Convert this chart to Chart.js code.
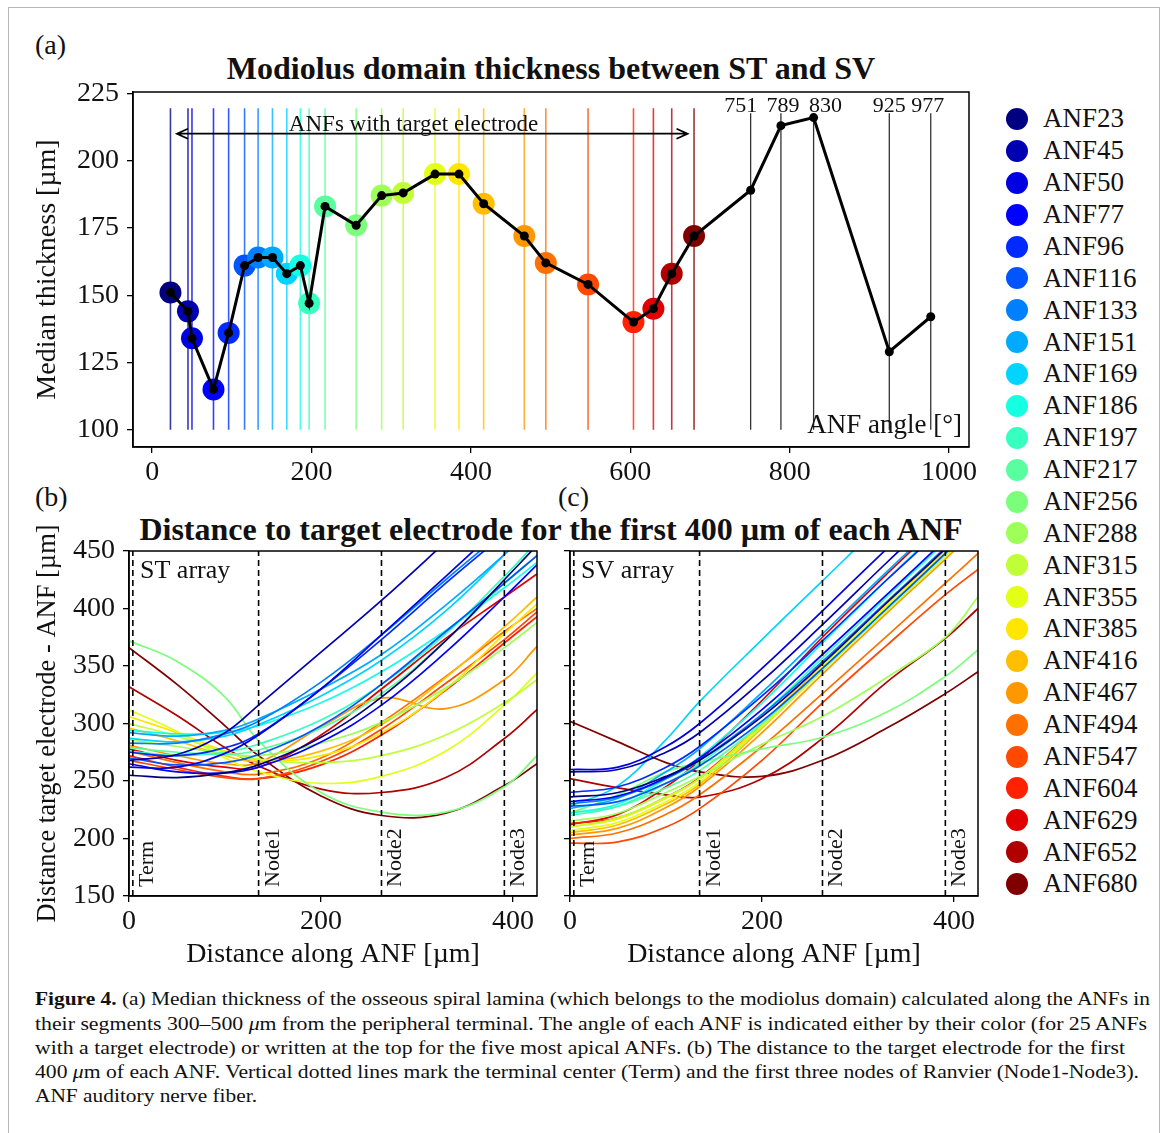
<!DOCTYPE html>
<html>
<head>
<meta charset="utf-8">
<script src="https://cdn.jsdelivr.net/npm/chart.js"></script>
<style>
  body { margin: 0; background: #fff; width: 1168px; height: 1133px; position: relative; overflow: hidden;
         font-family: 'Liberation Serif', serif; color: #111; }
  .frame { position: absolute; left: 8px; top: 7px; width: 1150px; height: 1160px; border: 1.5px solid #b8b8b8; }
  .box { position: absolute; }
  .txt { position: absolute; white-space: nowrap; line-height: 1; }
  .ttl { font-weight: bold; font-size: 32px; transform: translateX(-50%); }
  .cap { position: absolute; left: 35px; font-size: 18px; line-height: 1; white-space: nowrap; transform-origin: left center; }
  .dot { position: absolute; width: 22px; height: 22px; border-radius: 50%; }
</style>
</head>
<body>
<div class="frame"></div>

<div class="txt" style="left:35px; top:31px; font-size:28px">(a)</div>
<div class="txt ttl" style="left:551px; top:52px">Modiolus domain thickness between ST and SV</div>
<div class="txt" style="left:35px; top:483px; font-size:28px">(b)</div>
<div class="txt" style="left:558px; top:483px; font-size:28px">(c)</div>
<div class="txt ttl" style="left:551px; top:513px">Distance to target electrode for the first 400 µm of each ANF</div>

<div class="box" style="left:30px; top:60px"><canvas id="chartA" width="960" height="435"></canvas></div>
<div class="box" style="left:30px; top:520px"><canvas id="chartB" width="520" height="455"></canvas></div>
<div class="box" style="left:540px; top:520px"><canvas id="chartC" width="450" height="455"></canvas></div>

<div id="legend"></div>

<div id="caption">
  <div class="cap" style="top:990px"><b>Figure 4.</b> (a) Median thickness of the osseous spiral lamina (which belongs to the modiolus domain) calculated along the ANFs in</div>
  <div class="cap" style="top:1015px">their segments 300–500 <i>μ</i>m from the peripheral terminal. The angle of each ANF is indicated either by their color (for 25 ANFs</div>
  <div class="cap" style="top:1039px">with a target electrode) or written at the top for the five most apical ANFs. (b) The distance to the target electrode for the first</div>
  <div class="cap" style="top:1063px">400 <i>μ</i>m of each ANF. Vertical dotted lines mark the terminal center (Term) and the first three nodes of Ranvier (Node1-Node3).</div>
  <div class="cap" style="top:1087px">ANF auditory nerve fiber.</div>
</div>

<script>
// --- DATA ---
// (a) ANFs with a target electrode: angle [deg] and median thickness [um]
const anfAngles = [23, 45, 50, 77, 96, 116, 133, 151, 169, 186, 197, 217, 256, 288, 315, 355, 385, 416, 467, 494, 547, 604, 629, 652, 680];
const anfThickness = [151, 144, 134, 115, 136, 161, 164, 164, 158, 161, 147, 183, 176, 187, 188, 195, 195, 184, 172, 162, 154, 140, 145, 158, 172];
// five most apical ANFs (no target electrode)
const apicalAngles = [751, 789, 830, 925, 977];
const apicalThickness = [189, 213, 216, 129, 142];
const thickTicks = [100, 125, 150, 175, 200, 225];
const angleTicks = [0, 200, 400, 600, 800, 1000];

// (b)/(c) distance to target electrode [um], sampled along the ANF [um]
const distX = [0, 50, 100, 135, 200, 263, 330, 391, 425];
const stDist = [
  [255, 253, 257, 264, 288, 323, 372, 425, 455],  // ANF23
  [268, 273, 292, 316, 362, 407, 458, 505, 535],  // ANF45
  [262, 262, 274, 290, 330, 377, 428, 475, 502],  // ANF50
  [265, 258, 257, 262, 284, 316, 362, 410, 438],  // ANF77
  [275, 272, 279, 291, 330, 373, 422, 465, 490],  // ANF96
  [270, 264, 266, 273, 298, 334, 380, 422, 446],  // ANF116
  [283, 283, 291, 302, 336, 377, 425, 468, 493],  // ANF133
  [292, 289, 294, 304, 330, 360, 403, 447, 474],  // ANF151
  [287, 284, 289, 299, 324, 355, 398, 447, 480],  // ANF169
  [294, 291, 292, 298, 318, 345, 381, 418, 440],  // ANF186
  [276, 272, 275, 282, 303, 334, 378, 428, 458],  // ANF197
  [279, 275, 273, 277, 296, 326, 372, 422, 446],  // ANF217
  [372, 354, 323, 285, 240, 223, 223, 245, 272],  // ANF256
  [286, 280, 274, 272, 283, 301, 331, 366, 388],  // ANF288
  [300, 289, 275, 269, 266, 272, 290, 318, 338],  // ANF315
  [312, 293, 270, 258, 248, 254, 276, 316, 344],  // ANF355
  [306, 292, 276, 268, 272, 292, 330, 378, 404],  // ANF385
  [296, 285, 272, 267, 276, 299, 340, 384, 410],  // ANF416
  [281, 272, 265, 266, 297, 322, 313, 338, 367],  // ANF467
  [276, 266, 258, 256, 270, 301, 341, 380, 400],  // ANF494
  [268, 260, 253, 252, 267, 295, 335, 373, 397],  // ANF547
  [272, 262, 254, 252, 264, 290, 329, 370, 393],  // ANF604
  [278, 268, 262, 262, 290, 330, 374, 410, 430],  // ANF629
  [332, 307, 279, 263, 243, 240, 253, 287, 312],  // ANF652
  [366, 334, 298, 272, 237, 220, 222, 246, 265]   // ANF680
];
const svDist = [
  [236, 240, 254, 268, 306, 352, 405, 452, 482],  // ANF23
  [258, 260, 275, 292, 337, 386, 440, 488, 515],  // ANF45
  [260, 262, 280, 300, 348, 398, 452, 500, 528],  // ANF50
  [232, 237, 253, 270, 312, 360, 412, 460, 488],  // ANF77
  [240, 245, 262, 280, 324, 372, 425, 472, 500],  // ANF96
  [228, 232, 248, 263, 302, 348, 400, 448, 476],  // ANF116
  [230, 236, 252, 268, 308, 354, 406, 453, 480],  // ANF133
  [226, 235, 258, 278, 327, 378, 432, 480, 508],  // ANF151
  [228, 246, 286, 319, 373, 424, 478, 525, 552],  // ANF169
  [222, 230, 252, 271, 318, 370, 425, 474, 502],  // ANF186
  [220, 228, 248, 265, 308, 357, 410, 458, 486],  // ANF197
  [222, 228, 244, 259, 300, 348, 400, 448, 475],  // ANF217
  [222, 238, 258, 266, 278, 288, 310, 341, 364],  // ANF256
  [215, 222, 240, 254, 282, 306, 340, 375, 410],  // ANF288
  [210, 218, 236, 252, 297, 346, 398, 445, 472],  // ANF315
  [207, 214, 232, 249, 298, 350, 402, 448, 475],  // ANF355
  [210, 217, 235, 252, 300, 352, 404, 450, 478],  // ANF385
  [205, 212, 230, 247, 296, 347, 400, 447, 474],  // ANF416
  [203, 209, 227, 245, 292, 343, 396, 443, 470],  // ANF467
  [200, 205, 221, 238, 280, 326, 376, 422, 448],  // ANF494
  [196, 197, 210, 226, 268, 318, 368, 412, 434],  // ANF547
  [213, 218, 236, 253, 300, 352, 405, 452, 480],  // ANF604
  [212, 221, 245, 268, 320, 375, 430, 478, 505],  // ANF629
  [252, 244, 238, 236, 252, 287, 336, 374, 400],  // ANF652
  [302, 284, 266, 258, 254, 268, 296, 326, 345]   // ANF680
];
const distTicks = [150, 200, 250, 300, 350, 400, 450];
const alongTicks = [0, 200, 400];
const nodeX = [4, 135, 263, 391];
const nodeNames = ['Term', 'Node1', 'Node2', 'Node3'];

// --- COLORS (matplotlib jet) ---
const jetSeg = {
  r: [[0, 0], [0.35, 0], [0.66, 1], [0.89, 1], [1, 0.5]],
  g: [[0, 0], [0.125, 0], [0.375, 1], [0.64, 1], [0.91, 0], [1, 0]],
  b: [[0, 0.5], [0.11, 1], [0.34, 1], [0.65, 0], [1, 0]]
};
function segVal(pts, t) {
  for (let i = 1; i < pts.length; i++) {
    if (t <= pts[i][0]) {
      const [t0, v0] = pts[i - 1], [t1, v1] = pts[i];
      return v0 + (v1 - v0) * (t - t0) / (t1 - t0);
    }
  }
  return pts[pts.length - 1][1];
}
function jet(t, a = 1) {
  const c = ['r', 'g', 'b'].map(k => Math.round(255 * segVal(jetSeg[k], t)));
  return `rgba(${c[0]},${c[1]},${c[2]},${a})`;
}
const anfColors = anfAngles.map((a, i) => jet(i / (anfAngles.length - 1)));
const anfColorsFaint = anfAngles.map((a, i) => jet(i / (anfAngles.length - 1), 0.78));

// --- LEGEND (html) ---
const legend = document.getElementById('legend');
anfAngles.forEach((a, i) => {
  const cy = 119 + i * 31.875;
  const d = document.createElement('div');
  d.className = 'dot';
  d.style.left = '1006px'; d.style.top = (cy - 11) + 'px'; d.style.background = anfColors[i];
  legend.appendChild(d);
  const t = document.createElement('div');
  t.className = 'txt';
  t.style.left = '1043px'; t.style.top = (cy + 9 - 22.6) + 'px'; t.style.fontSize = '27px';
  t.textContent = 'ANF' + a;
  legend.appendChild(t);
});

// stretch caption lines to the measured widths of the original
const capWidths = [1115, 1112, 1090, 1104, 222];
document.querySelectorAll('.cap').forEach((el, i) => {
  const w = el.getBoundingClientRect().width;
  el.style.transform = `scaleX(${capWidths[i] / w})`;
});

// --- CHART HELPERS ---
Chart.defaults.font.family = "'Liberation Serif', serif";
Chart.defaults.color = '#111';

function axis(min, max, ticks, extra) {
  return Object.assign({
    type: 'linear', min, max,
    afterBuildTicks: s => { s.ticks = ticks.map(v => ({ value: v })); },
    grid: { drawOnChartArea: false, drawTicks: true, tickLength: 6, color: '#000', lineWidth: 1.3 },
    border: { display: true, color: '#000', width: 1.5 },
    ticks: { font: { size: 28 }, color: '#111', padding: 8, callback: v => String(v) }
  }, extra);
}

const frameBox = {
  id: 'frameBox',
  afterDatasetsDraw(chart) {
    const { ctx, chartArea: ca } = chart;
    ctx.save();
    ctx.strokeStyle = '#000';
    ctx.lineWidth = 1.5;
    ctx.strokeRect(ca.left, ca.top, ca.right - ca.left, ca.bottom - ca.top);
    ctx.restore();
  }
};

// --- (a) THICKNESS ---
const dsA = [];
anfAngles.forEach((a, i) => dsA.push({
  data: [{ x: a, y: 100 }, { x: a, y: 219.5 }],
  borderColor: anfColorsFaint[i], borderWidth: 1.6, pointRadius: 0, order: 3
}));
apicalAngles.forEach(a => dsA.push({
  data: [{ x: a, y: 100 }, { x: a, y: 217.6 }],
  borderColor: '#333', borderWidth: 1.3, pointRadius: 0, order: 3
}));
dsA.push({
  data: anfAngles.map((a, i) => ({ x: a, y: anfThickness[i] })),
  showLine: false, pointRadius: 11, pointBackgroundColor: anfColors, pointBorderWidth: 0, order: 2
});
dsA.push({
  data: anfAngles.concat(apicalAngles).map((a, i) => ({ x: a, y: anfThickness.concat(apicalThickness)[i] })),
  borderColor: '#000', borderWidth: 3, tension: 0,
  pointRadius: 4.5, pointBackgroundColor: '#000', pointBorderWidth: 0, order: 1
});

const arrowY = 210;
const apicalLabelShift = [-10, 2, 12, 0, -3];   // px, labels spread apart as in the figure
const annotA = {
  id: 'annotA',
  afterDatasetsDraw(chart) {
    const { ctx, chartArea: ca, scales: { x, y } } = chart;
    ctx.save();
    const yA = y.getPixelForValue(arrowY);
    const x1 = x.getPixelForValue(anfAngles[0]) + 6.5;
    const x2 = x.getPixelForValue(anfAngles[anfAngles.length - 1]) - 6.5;
    ctx.strokeStyle = '#000';
    ctx.lineWidth = 1.8;
    ctx.beginPath();
    ctx.moveTo(x1, yA); ctx.lineTo(x2, yA);
    ctx.moveTo(x1 + 11, yA - 5); ctx.lineTo(x1, yA); ctx.lineTo(x1 + 11, yA + 5);
    ctx.moveTo(x2 - 11, yA - 5); ctx.lineTo(x2, yA); ctx.lineTo(x2 - 11, yA + 5);
    ctx.stroke();
    ctx.fillStyle = '#111';
    ctx.font = "23px 'Liberation Serif'";
    ctx.textAlign = 'center';
    ctx.textBaseline = 'alphabetic';
    ctx.fillText('ANFs with target electrode', x.getPixelForValue(328), yA - 3);
    ctx.font = "22px 'Liberation Serif'";
    apicalAngles.forEach((a, i) => ctx.fillText(String(a), x.getPixelForValue(a) + apicalLabelShift[i], ca.top + 20));
    ctx.font = "27px 'Liberation Serif'";
    ctx.textAlign = 'right';
    ctx.fillText('ANF angle [°]', ca.right - 7, ca.bottom - 14);
    ctx.restore();
  }
};

new Chart(document.getElementById('chartA'), {
  type: 'line',
  data: { datasets: dsA },
  options: {
    responsive: false, animation: false, events: [],
    layout: { padding: { top: 32, right: 21, left: 0, bottom: 0 } },
    plugins: { legend: { display: false }, tooltip: { enabled: false } },
    scales: {
      x: axis(-24, 1025, angleTicks, {
        afterFit: s => { s.height = 48; },
        ticks: { font: { size: 28 }, color: '#111', padding: 3, callback: v => String(v) }
      }),
      y: axis(93.6, 225.5, thickTicks, {
        afterFit: s => { s.width = 103; },
        title: { display: true, text: 'Median thickness [µm]', font: { size: 28 }, color: '#111', padding: { top: 1, bottom: 0 } }
      })
    }
  },
  plugins: [frameBox, annotA]
});

// --- (b) / (c) DISTANCE ---
function distChart(id, series, label, yWidth, padRight, showY) {
  const ds = series.map((vals, i) => ({
    data: distX.map((x, j) => ({ x, y: vals[j] })),
    borderColor: anfColors[i], borderWidth: 1.7, pointRadius: 0, tension: 0.4, clip: 0, order: 2
  }));
  nodeX.forEach(n => ds.push({
    data: [{ x: n, y: 150 }, { x: n, y: 450 }],
    borderColor: '#000', borderWidth: 1.6, borderDash: [6, 4], pointRadius: 0, order: 1
  }));
  const annot = {
    id: 'annot' + id,
    afterDatasetsDraw(chart) {
      const { ctx, chartArea: ca, scales: { x } } = chart;
      ctx.save();
      ctx.fillStyle = '#111';
      ctx.font = "26px 'Liberation Serif'";
      ctx.textAlign = 'left';
      ctx.textBaseline = 'alphabetic';
      ctx.fillText(label, ca.left + 11, ca.top + 27);
      ctx.font = "22px 'Liberation Serif'";
      nodeX.forEach((n, i) => {
        ctx.save();
        ctx.translate(x.getPixelForValue(n) + 20, ca.bottom - 9);
        ctx.rotate(-Math.PI / 2);
        ctx.fillText(nodeNames[i], 0, 0);
        ctx.restore();
      });
      ctx.restore();
    }
  };
  return new Chart(document.getElementById(id), {
    type: 'line',
    data: { datasets: ds },
    options: {
      responsive: false, animation: false, events: [],
      layout: { padding: { top: 31, right: padRight, left: 0, bottom: 0 } },
      elements: { line: { capBezierPoints: false } },
      plugins: { legend: { display: false }, tooltip: { enabled: false } },
      scales: {
        x: axis(0, 425, alongTicks, {
          afterFit: s => { s.height = 79; },
          ticks: { font: { size: 28 }, color: '#111', padding: 3, callback: v => String(v) },
          title: { display: true, text: 'Distance along ANF [µm]', font: { size: 28 }, color: '#111', padding: { top: 0, bottom: 4 } }
        }),
        y: axis(150, 450, distTicks, {
          afterFit: s => { s.width = yWidth; },
          ticks: { display: showY, font: { size: 28 }, color: '#111', padding: 8, callback: v => String(v) },
          title: { display: showY, text: 'Distance target electrode - ANF [µm]', font: { size: 26.5 }, color: '#111', padding: { top: 2, bottom: 0 } }
        })
      }
    },
    plugins: [frameBox, annot]
  });
}

distChart('chartB', stDist, 'ST array', 99, 13, true);
distChart('chartC', svDist, 'SV array', 30, 12, false);
</script>
</body>
</html>
